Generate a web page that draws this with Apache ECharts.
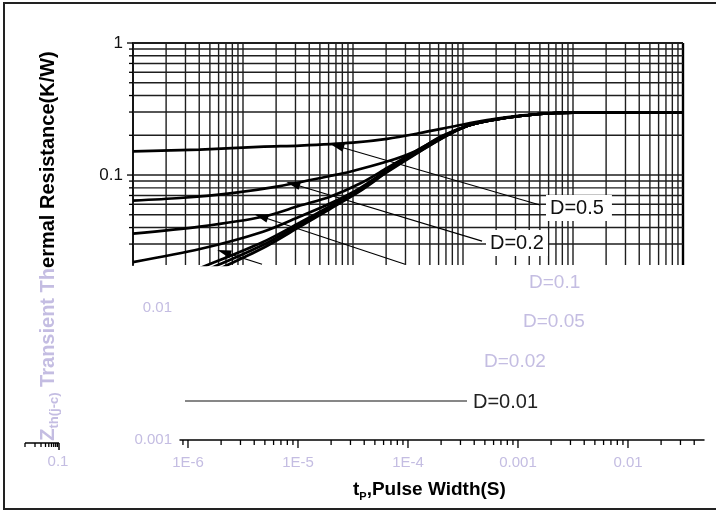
<!DOCTYPE html>
<html><head><meta charset="utf-8">
<script src="https://cdn.jsdelivr.net/npm/echarts@6/dist/echarts.min.js"></script>
<style>html,body{margin:0;padding:0;background:#fff}#c{width:716px;height:510px}</style>
</head><body><div id="c"></div>
<script>
// ---------------- data ----------------
// common tail where all curves merge into the steady-state value
const tailPW  = [1.09e-3, 1.76e-3, 3.3e-3, 7.0e-3, 0.0176, 0.1];
const tailZth = [0.235, 0.2588, 0.280, 0.295, 0.298, 0.298];

const pw05  = [1e-6, 4.06e-6, 1.55e-5, 3.30e-5, 1e-4, 2.04e-4, 4.07e-4, 8.1e-4, 1.65e-3, 3.3e-3, 7.0e-3, 0.0176, 0.1];
const zth05 = [0.151, 0.156, 0.164, 0.167, 0.176, 0.188, 0.208, 0.233, 0.261, 0.282, 0.295, 0.298, 0.298];

const pw02  = [1e-6, 2.68e-6, 7.62e-6, 2.17e-5, 6.18e-5, 9.39e-5, 2.04e-4, 3.51e-4, 6.58e-4];
const zth02 = [0.0641, 0.0670, 0.0727, 0.0825, 0.0983, 0.106, 0.1265, 0.149, 0.199];

// lower curves share the same pulse-width sampling
const pwLower   = [1e-6, 4.06e-6, 1.52e-5, 3.30e-5, 6.18e-5, 1.158e-4, 2.04e-4, 3.51e-4, 6.58e-4];
const zth01     = [0.0360, 0.0407, 0.0483, 0.0587, 0.0685, 0.0862, 0.1130, 0.1468, 0.1974];
const zth005    = [0.0219, 0.0275, 0.0372, 0.0485, 0.0608, 0.0797, 0.1091, 0.1442, 0.1957];
const zth002    = [0.0123, 0.0197, 0.0311, 0.0437, 0.0582, 0.0783, 0.1076, 0.1427, 0.1940];
const zth001    = [0.0107, 0.0181, 0.0295, 0.0422, 0.0567, 0.0770, 0.1063, 0.1413, 0.1926];
const zthSingle = [0.00933, 0.0166, 0.0280, 0.0407, 0.0553, 0.0756, 0.1050, 0.1398, 0.1913];

// annotation arrows (tip -> tail), data coordinates
const arrowTipX  = [7.15e-5, 2.85e-5, 1.46e-5, 6.71e-6];
const arrowTipY  = [0.166, 0.0855, 0.0485, 0.0261];
const arrowTailX = [5.01e-3, 1.49e-3, 2.97e-4, 1.49e-5];
const arrowTailY = [0.0593, 0.0316, 0.0211, 0.0211];

// lower (faded) layer leader line for D=0.01
const leaderX = [9.39e-7, 3.44e-4];
const leaderY = [0.00197, 0.00197];

// tick labels
const yTickValuesA = [1, 0.1];
const yTickLabelsA = ['1', '0.1'];
const yTickValuesB = [0.01, 0.001];
const yTickLabelsB = ['0.01', '0.001'];
const xTickValuesB = [1e-6, 1e-5, 1e-4, 1e-3, 1e-2];
const xTickLabelsB = ['1E-6', '1E-5', '1E-4', '0.001', '0.01'];

// ---------------- helpers ----------------
const Y_MIN_A = 0.020826, X_MIN_A = 1e-6, X_MAX_A = 0.1;
const X_MIN_B = 8.46e-7, X_MAX_B = 0.0491, Y_MIN_B = 0.001;
const PASTEL = '#c4bde2';
const FONT = 'Liberation Sans';

function lookup(v, vals, labs) {
  for (let i = 0; i < vals.length; i++) {
    if (Math.abs(Math.log10(v) - Math.log10(vals[i])) < 1e-4) return labs[i];
  }
  return '';
}
function pairs(xs, ys) { return xs.map((x, i) => [x, ys[i]]); }

const vGridVals = [];
for (let e = -6; e <= -2; e++) for (let m = 1; m <= 9; m++) vGridVals.push(m * Math.pow(10, e));
vGridVals.push(0.1);
const hGridVals = [0.03,0.04,0.05,0.06,0.07,0.08,0.09,0.1,0.2,0.3,0.4,0.5,0.6,0.7,0.8,0.9,1];

const xTicksB = [[9e-7, 5]];
for (let e = -6; e <= -2; e++) for (let m = 1; m <= 9; m++) {
  const v = m * Math.pow(10, e);
  if (v <= X_MAX_B) xTicksB.push([v, m === 1 ? 8 : 5]);
}

function curve(name, xs, ys, withTail) {
  let d = pairs(xs, ys);
  if (withTail) d = d.concat(pairs(tailPW, tailZth));
  return {
    name, type: 'line', xAxisIndex: 0, yAxisIndex: 0, data: d, z: 5,
    showSymbol: false, symbol: 'none', smooth: 0.3, clip: true,
    lineStyle: { color: '#000', width: 2.7 }, silent: true, animation: false
  };
}

const chart = echarts.init(document.getElementById('c'), null, { renderer: 'canvas' });

const s05 = curve('D=0.5', pw05, zth05, false);
s05.markLine = {
  silent: true, animation: false, symbol: ['triangle', 'none'], symbolSize: [8, 14],
  label: { show: false }, lineStyle: { color: '#000', width: 1.2, type: 'solid' },
  emphasis: { disabled: true },
  data: arrowTipX.map((x, i) => [{ coord: [x, arrowTipY[i]] }, { coord: [arrowTailX[i], arrowTailY[i]] }])
};

// small ruler remnant at bottom-left
const rulerTicks = [];
[25, 35, 41, 45.5, 48.8, 51.5, 53.7, 55.7, 57.4].forEach(x => rulerTicks.push({
  type: 'line', silent: true, z: 100, shape: { x1: x, y1: 443, x2: x, y2: 447 },
  style: { stroke: '#000', lineWidth: 1.3 } }));

const option = {
  backgroundColor: '#fff',
  animation: false,
  grid: [
    { left: 133, top: 43, width: 550, height: 222, outerBoundsMode: 'none', containLabel: false },
    { left: 180, top: 43, width: 524, height: 397, outerBoundsMode: 'none', containLabel: false }
  ],
  xAxis: [
    { type: 'log', gridIndex: 0, min: X_MIN_A, max: X_MAX_A, show: false },
    { type: 'log', gridIndex: 1, min: X_MIN_B, max: X_MAX_B,
      axisLine: { show: true, lineStyle: { color: '#000', width: 1.5 } },
      axisTick: { show: false }, splitLine: { show: false },
      axisLabel: { color: PASTEL, fontSize: 15, fontFamily: FONT, margin: 15,
        formatter: v => lookup(v, xTickValuesB, xTickLabelsB) } }
  ],
  yAxis: [
    { type: 'log', gridIndex: 0, min: Y_MIN_A, max: 1,
      axisLine: { show: true, lineStyle: { color: '#000', width: 2 } },
      axisTick: { show: false }, splitLine: { show: false },
      axisLabel: { color: '#111', fontSize: 17, fontFamily: FONT, margin: 10,
        formatter: v => lookup(v, yTickValuesA, yTickLabelsA) } },
    { type: 'log', gridIndex: 1, min: Y_MIN_B, max: 1,
      axisLine: { show: false }, axisTick: { show: false }, splitLine: { show: false },
      axisLabel: { color: PASTEL, fontSize: 15, fontFamily: FONT, margin: 8,
        formatter: v => lookup(v, yTickValuesB, yTickLabelsB) } }
  ],
  series: [
    { type: 'custom', xAxisIndex: 0, yAxisIndex: 0, z: 1, silent: true, clip: false,
      data: vGridVals.map(v => [v, 1]),
      renderItem: (p, api) => {
        const v = api.value(0);
        const a = api.coord([v, Y_MIN_A]), b = api.coord([v, 1]);
        const edge = Math.abs(Math.log10(v) + 1) < 1e-6;
        return { type: 'line', shape: { x1: a[0], y1: a[1], x2: b[0], y2: b[1] },
          style: { stroke: edge ? '#000' : '#1e1e1e', lineWidth: edge ? 2.4 : 1.4 } };
      } },
    { type: 'custom', xAxisIndex: 0, yAxisIndex: 0, z: 1, silent: true, clip: false,
      data: hGridVals.map(v => [X_MIN_A, v]),
      renderItem: (p, api) => {
        const v = api.value(1);
        const a = api.coord([X_MIN_A, v]), b = api.coord([X_MAX_A, v]);
        const major = Math.abs(Math.log10(v) - Math.round(Math.log10(v))) < 1e-6;
        return { type: 'group', children: [
          { type: 'line', shape: { x1: a[0], y1: a[1], x2: b[0], y2: b[1] },
            style: { stroke: '#1e1e1e', lineWidth: v === 1 ? 1.8 : 1.4 } },
          { type: 'line', shape: { x1: a[0] - (major ? 6 : 4), y1: a[1], x2: a[0], y2: a[1] },
            style: { stroke: '#000', lineWidth: 1.3 } }
        ] };
      } },
    { type: 'custom', xAxisIndex: 1, yAxisIndex: 1, z: 1, silent: true, clip: false,
      data: xTicksB,
      renderItem: (p, api) => {
        const v = api.value(0), len = api.value(1);
        const a = api.coord([v, Y_MIN_B]);
        return { type: 'line', shape: { x1: a[0], y1: a[1], x2: a[0], y2: a[1] + len },
          style: { stroke: '#000', lineWidth: 1.3 } };
      } },
    s05,
    curve('D=0.2', pw02, zth02, true),
    curve('D=0.1', pwLower, zth01, true),
    curve('D=0.05', pwLower, zth005, true),
    curve('D=0.02', pwLower, zth002, true),
    curve('D=0.01', pwLower, zth001, true),
    curve('Single Pulse', pwLower, zthSingle, true),
    { type: 'line', xAxisIndex: 1, yAxisIndex: 1, data: pairs(leaderX, leaderY), symbol: 'none',
      lineStyle: { color: '#111', width: 1.1 }, silent: true, z: 4 }
  ],
  graphic: [
    { type: 'rect', silent: true, z: 100, shape: { x: 4, y: 3, width: 740, height: 506 },
      style: { fill: 'none', stroke: '#222', lineWidth: 2 } },
    { type: 'text', silent: true, z: 100, x: 546, y: 208,
      style: { text: 'D=0.5', fontSize: 20, fontFamily: FONT, fill: '#111',
        verticalAlign: 'middle', backgroundColor: '#fff', padding: [3, 8, 3, 4] } },
    { type: 'text', silent: true, z: 100, x: 486, y: 243,
      style: { text: 'D=0.2', fontSize: 20, fontFamily: FONT, fill: '#111',
        verticalAlign: 'middle', backgroundColor: '#fff', padding: [3, 4, 3, 4] } },
    { type: 'text', silent: true, z: 100, x: 529, y: 283,
      style: { text: 'D=0.1', fontSize: 19, fontFamily: FONT, fill: PASTEL, verticalAlign: 'middle' } },
    { type: 'text', silent: true, z: 100, x: 523, y: 322,
      style: { text: 'D=0.05', fontSize: 19, fontFamily: FONT, fill: PASTEL, verticalAlign: 'middle' } },
    { type: 'text', silent: true, z: 100, x: 484, y: 362,
      style: { text: 'D=0.02', fontSize: 19, fontFamily: FONT, fill: PASTEL, verticalAlign: 'middle' } },
    { type: 'text', silent: true, z: 100, x: 473, y: 402,
      style: { text: 'D=0.01', fontSize: 20, fontFamily: FONT, fill: '#222', verticalAlign: 'middle' } },
    { type: 'text', silent: true, z: 100, x: 58, y: 462,
      style: { text: '0.1', fontSize: 15, fontFamily: FONT, fill: PASTEL, align: 'center', verticalAlign: 'middle' } },
    { type: 'line', silent: true, z: 100, shape: { x1: 25, y1: 443, x2: 59, y2: 443 },
      style: { stroke: '#000', lineWidth: 1.5 } },
    { type: 'line', silent: true, z: 100, shape: { x1: 59, y1: 443, x2: 59, y2: 450 },
      style: { stroke: '#000', lineWidth: 1.5 } },
    ...rulerTicks,
    { type: 'text', silent: true, z: 100, x: 48, y: 246, rotation: Math.PI / 2,
      style: {
        text: '{z|Z}{s|th(j-c)}{f| Transient Th}{b|ermal Resistance(K/W)}',
        align: 'center', verticalAlign: 'middle',
        rich: {
          z: { fontSize: 20, fontWeight: 'bold', fontFamily: FONT, fill: PASTEL, lineHeight: 26 },
          s: { fontSize: 13, fontWeight: 'bold', fontFamily: FONT, fill: PASTEL, lineHeight: 26, verticalAlign: 'bottom' },
          f: { fontSize: 20, fontWeight: 'bold', fontFamily: FONT, fill: PASTEL, lineHeight: 26 },
          b: { fontSize: 20, fontWeight: 'bold', fontFamily: FONT, fill: '#000', lineHeight: 26 }
        }
      } },
    { type: 'text', silent: true, z: 100, x: 353, y: 490,
      style: {
        text: '{t|t}{p|P}{r|,Pulse Width(S)}', verticalAlign: 'middle',
        rich: {
          t: { fontSize: 19, fontWeight: 'bold', fontFamily: FONT, fill: '#000', lineHeight: 24 },
          p: { fontSize: 11, fontWeight: 'bold', fontFamily: FONT, fill: '#000', lineHeight: 24, verticalAlign: 'bottom' },
          r: { fontSize: 19, fontWeight: 'bold', fontFamily: FONT, fill: '#000', lineHeight: 24 }
        }
      } }
  ]
};
chart.setOption(option);
</script></body></html>
